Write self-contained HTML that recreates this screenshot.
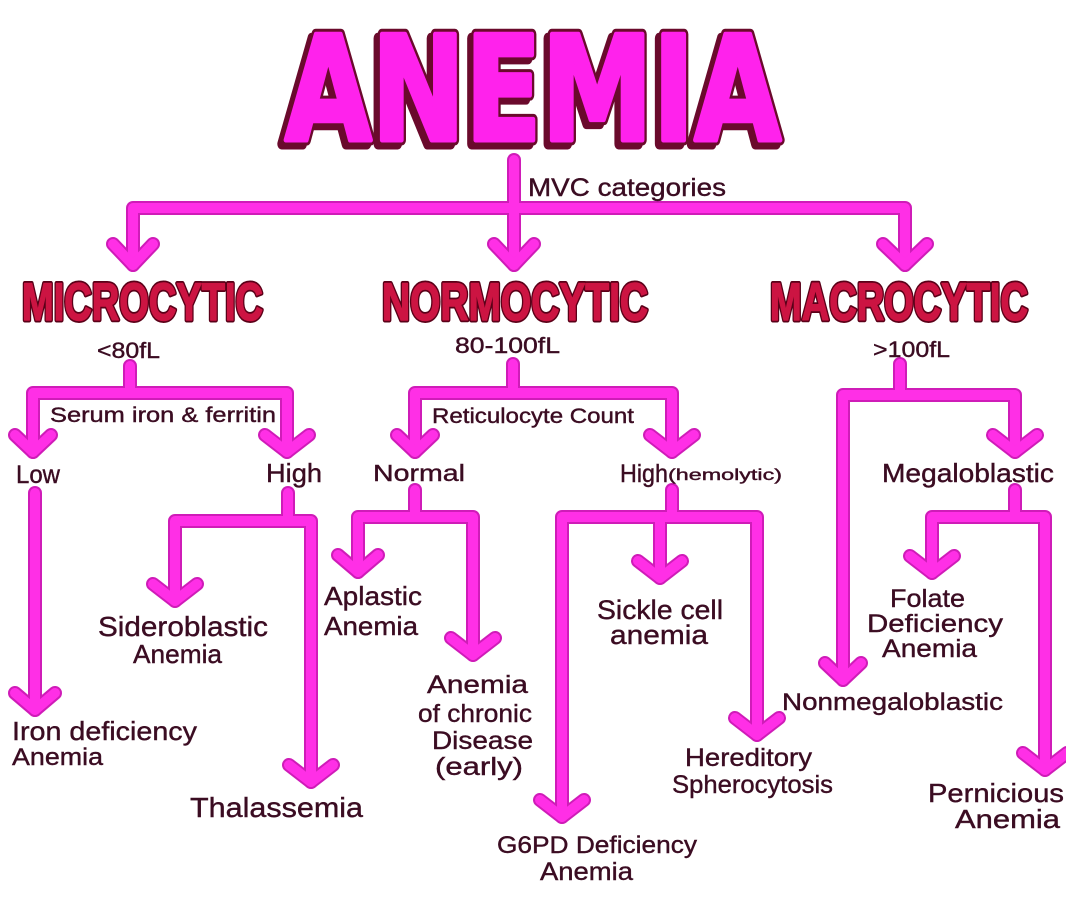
<!DOCTYPE html>
<html><head><meta charset="utf-8"><style>
html,body{margin:0;padding:0;background:#fff;}
svg{display:block;}
.t{font-family:"Liberation Sans",sans-serif;fill:#3b0c22;stroke:#3b0c22;stroke-width:0.4;}
.h{font-family:"Liberation Sans",sans-serif;font-weight:bold;}
</style></head><body>
<svg width="1066" height="911" viewBox="0 0 1066 911" xmlns="http://www.w3.org/2000/svg">
<rect width="1066" height="911" fill="#fff"/>
<!-- Title -->
<g font-family="DejaVu Sans, Liberation Sans, sans-serif" font-weight="bold" font-size="145" stroke-linejoin="round">
  <text x="281" y="144" textLength="496" lengthAdjust="spacingAndGlyphs" fill="#e0106e" stroke="#6a0a2c" stroke-width="11">ANEMIA</text>
  <text x="285" y="140" textLength="496" lengthAdjust="spacingAndGlyphs" fill="#ff22ec" stroke="#6a0a2c" stroke-width="11">ANEMIA</text>
  <text x="285" y="140" textLength="496" lengthAdjust="spacingAndGlyphs" fill="#ff22ec" stroke="#ff22ec" stroke-width="5">ANEMIA</text>
</g>

<!-- connectors -->
<g fill="none" stroke-linecap="round" stroke-linejoin="round">
<g stroke="#cf1cb8" stroke-width="14">
  <path d="M514,160 V265"/>
  <path d="M133,265 V208 H905 V265"/>
  <path d="M130,366 V393"/>
  <path d="M33,452 V393 H287 V452"/>
  <path d="M35,493 V710"/>
  <path d="M288,493 V521"/>
  <path d="M175,601 V521 H311 V782"/>
  <path d="M513,364 V393"/>
  <path d="M415,452 V393 H672 V452"/>
  <path d="M415,490 V517"/>
  <path d="M358,572 V517 H473 V655"/>
  <path d="M672,490 V517"/>
  <path d="M562,817 V517 H757 V735"/>
  <path d="M660,517 V578"/>
  <path d="M900,364 V395"/>
  <path d="M843,680 V395 H1015 V452"/>
  <path d="M1015,490 V517"/>
  <path d="M932,573 V517 H1045 V770"/>
  <path d="M494,244 L514,265 L534,244"/>
  <path d="M113,244 L133,265 L153,244"/>
  <path d="M883,244 L905,265 L927,244"/>
  <path d="M15,435 L33,452 L51,435"/>
  <path d="M265,435 L287,452 L309,435"/>
  <path d="M15,693 L35,710 L55,693"/>
  <path d="M153,584 L175,601 L197,584"/>
  <path d="M289,765 L311,782 L333,765"/>
  <path d="M397,435 L415,452 L433,435"/>
  <path d="M650,435 L672,452 L694,435"/>
  <path d="M338,555 L358,572 L378,555"/>
  <path d="M451,638 L473,655 L495,638"/>
  <path d="M638,561 L660,578 L682,561"/>
  <path d="M540,800 L562,817 L584,800"/>
  <path d="M735,718 L757,735 L779,718"/>
  <path d="M993,435 L1015,452 L1037,435"/>
  <path d="M825,663 L843,680 L861,663"/>
  <path d="M910,556 L932,573 L954,556"/>
  <path d="M1023,753 L1045,770 L1067,753"/>
</g>
</g>
<g fill="none" stroke-linecap="round" stroke-linejoin="round" stroke="#ff2fe6" stroke-width="10">
  <path d="M514,160 V265"/>
  <path d="M133,265 V208 H905 V265"/>
  <path d="M130,366 V393"/>
  <path d="M33,452 V393 H287 V452"/>
  <path d="M35,493 V710"/>
  <path d="M288,493 V521"/>
  <path d="M175,601 V521 H311 V782"/>
  <path d="M513,364 V393"/>
  <path d="M415,452 V393 H672 V452"/>
  <path d="M415,490 V517"/>
  <path d="M358,572 V517 H473 V655"/>
  <path d="M672,490 V517"/>
  <path d="M562,817 V517 H757 V735"/>
  <path d="M660,517 V578"/>
  <path d="M900,364 V395"/>
  <path d="M843,680 V395 H1015 V452"/>
  <path d="M1015,490 V517"/>
  <path d="M932,573 V517 H1045 V770"/>
  <path d="M494,244 L514,265 L534,244"/>
  <path d="M113,244 L133,265 L153,244"/>
  <path d="M883,244 L905,265 L927,244"/>
  <path d="M15,435 L33,452 L51,435"/>
  <path d="M265,435 L287,452 L309,435"/>
  <path d="M15,693 L35,710 L55,693"/>
  <path d="M153,584 L175,601 L197,584"/>
  <path d="M289,765 L311,782 L333,765"/>
  <path d="M397,435 L415,452 L433,435"/>
  <path d="M650,435 L672,452 L694,435"/>
  <path d="M338,555 L358,572 L378,555"/>
  <path d="M451,638 L473,655 L495,638"/>
  <path d="M638,561 L660,578 L682,561"/>
  <path d="M540,800 L562,817 L584,800"/>
  <path d="M735,718 L757,735 L779,718"/>
  <path d="M993,435 L1015,452 L1037,435"/>
  <path d="M825,663 L843,680 L861,663"/>
  <path d="M910,556 L932,573 L954,556"/>
  <path d="M1023,753 L1045,770 L1067,753"/>
</g>

<!-- category headers -->
<g class="h" font-size="53" stroke-linejoin="round">
  <g fill="#5a0018" stroke="#5a0018" stroke-width="5">
    <text x="22" y="320" textLength="241" lengthAdjust="spacingAndGlyphs">MICROCYTIC</text>
    <text x="382" y="320" textLength="266" lengthAdjust="spacingAndGlyphs">NORMOCYTIC</text>
    <text x="770" y="320" textLength="258" lengthAdjust="spacingAndGlyphs">MACROCYTIC</text>
  </g>
  <g fill="#cc1442" stroke="#cc1442" stroke-width="1.5">
    <text x="22" y="320" textLength="241" lengthAdjust="spacingAndGlyphs">MICROCYTIC</text>
    <text x="382" y="320" textLength="266" lengthAdjust="spacingAndGlyphs">NORMOCYTIC</text>
    <text x="770" y="320" textLength="258" lengthAdjust="spacingAndGlyphs">MACROCYTIC</text>
  </g>
</g>

<!-- labels -->
<g class="t">
  <text x="528" y="196" font-size="25" textLength="198" lengthAdjust="spacingAndGlyphs">MVC categories</text>
  <text x="97" y="358" font-size="22" textLength="63" lengthAdjust="spacingAndGlyphs">&lt;80fL</text>
  <text x="455" y="353" font-size="22" textLength="105" lengthAdjust="spacingAndGlyphs">80-100fL</text>
  <text x="873" y="357" font-size="22" textLength="77" lengthAdjust="spacingAndGlyphs">&gt;100fL</text>
  <text x="50" y="422" font-size="21" textLength="226" lengthAdjust="spacingAndGlyphs">Serum iron &amp; ferritin</text>
  <text x="16" y="483" font-size="25" textLength="44" lengthAdjust="spacingAndGlyphs">Low</text>
  <text x="266" y="482" font-size="26" textLength="56" lengthAdjust="spacingAndGlyphs">High</text>
  <text x="432" y="423" font-size="21" textLength="202" lengthAdjust="spacingAndGlyphs">Reticulocyte Count</text>
  <text x="373" y="481" font-size="23" textLength="92" lengthAdjust="spacingAndGlyphs">Normal</text>
  <text x="620" y="482" font-size="25" textLength="48" lengthAdjust="spacingAndGlyphs">High</text>
  <text x="668" y="480" font-size="16" textLength="114" lengthAdjust="spacingAndGlyphs">(hemolytic)</text>
  <text x="882" y="482" font-size="26" textLength="172" lengthAdjust="spacingAndGlyphs">Megaloblastic</text>
  <text x="98" y="636" font-size="28" textLength="170" lengthAdjust="spacingAndGlyphs">Sideroblastic</text>
  <text x="133" y="663" font-size="26" textLength="89" lengthAdjust="spacingAndGlyphs">Anemia</text>
  <text x="12" y="740" font-size="26" textLength="185" lengthAdjust="spacingAndGlyphs">Iron deficiency</text>
  <text x="12" y="765" font-size="24" textLength="91" lengthAdjust="spacingAndGlyphs">Anemia</text>
  <text x="190" y="817" font-size="28" textLength="173" lengthAdjust="spacingAndGlyphs">Thalassemia</text>
  <text x="324" y="605" font-size="26" textLength="98" lengthAdjust="spacingAndGlyphs">Aplastic</text>
  <text x="324" y="635" font-size="26" textLength="94" lengthAdjust="spacingAndGlyphs">Anemia</text>
  <text x="427" y="693" font-size="25" textLength="101" lengthAdjust="spacingAndGlyphs">Anemia</text>
  <text x="418" y="722" font-size="25" textLength="114" lengthAdjust="spacingAndGlyphs">of chronic</text>
  <text x="432" y="749" font-size="25" textLength="101" lengthAdjust="spacingAndGlyphs">Disease</text>
  <text x="435" y="775" font-size="25" textLength="88" lengthAdjust="spacingAndGlyphs">(early)</text>
  <text x="597" y="619" font-size="27" textLength="126" lengthAdjust="spacingAndGlyphs">Sickle cell</text>
  <text x="610" y="644" font-size="27" textLength="98" lengthAdjust="spacingAndGlyphs">anemia</text>
  <text x="497" y="853" font-size="24" textLength="200" lengthAdjust="spacingAndGlyphs">G6PD Deficiency</text>
  <text x="540" y="880" font-size="25" textLength="93" lengthAdjust="spacingAndGlyphs">Anemia</text>
  <text x="685" y="766" font-size="25" textLength="127" lengthAdjust="spacingAndGlyphs">Hereditory</text>
  <text x="672" y="793" font-size="25" textLength="161" lengthAdjust="spacingAndGlyphs">Spherocytosis</text>
  <text x="890" y="607" font-size="25" textLength="75" lengthAdjust="spacingAndGlyphs">Folate</text>
  <text x="867" y="632" font-size="25" textLength="136" lengthAdjust="spacingAndGlyphs">Deficiency</text>
  <text x="882" y="657" font-size="25" textLength="95" lengthAdjust="spacingAndGlyphs">Anemia</text>
  <text x="782" y="710" font-size="24" textLength="221" lengthAdjust="spacingAndGlyphs">Nonmegaloblastic</text>
  <text x="928" y="802" font-size="26" textLength="136" lengthAdjust="spacingAndGlyphs">Pernicious</text>
  <text x="955" y="828" font-size="26" textLength="105" lengthAdjust="spacingAndGlyphs">Anemia</text>
</g>
</svg>
</body></html>
